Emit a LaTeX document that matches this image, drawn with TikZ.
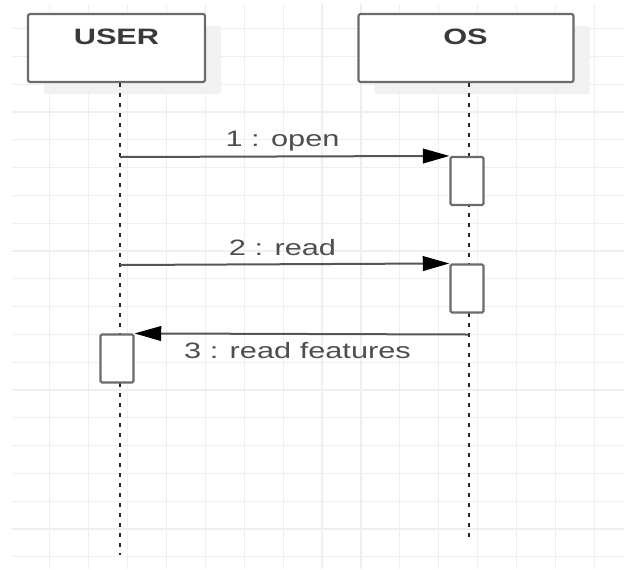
\documentclass[tikz,border=0pt]{standalone}
\usepackage{fontspec}
\setmainfont{Liberation Sans}
\newfontfamily\lblfont[FakeStretch=1.38]{Liberation Sans}
\usetikzlibrary{arrows.meta,shadows}
\definecolor{gridc}{HTML}{EFEFEF}
\definecolor{boxc}{HTML}{6B6B6B}
\definecolor{txtc}{HTML}{3A3A3A}
\definecolor{msgc}{HTML}{555555}
\definecolor{shadc}{HTML}{F1F1F1}
\tikzset{
  gridline/.style={draw=gridc, line width=0.9pt},
  objbox/.style={draw=boxc, line width=1.6pt, fill=white, rounded corners=1.5pt,
    minimum width=#1, minimum height=51pt, inner sep=0pt,
    general shadow={fill=shadc, shadow xshift=12pt, shadow yshift=-9pt}},
  actbox/.style={draw=boxc, line width=1.6pt, fill=white, rounded corners=1pt,
    minimum width=24.75pt, minimum height=36pt, inner sep=0pt},
  lifeline/.style={draw=black!85, line width=1.5pt, dash pattern=on 3pt off 4.5pt},
  msgline/.style={draw=msgc, line width=1.5pt, -{Triangle[length=20pt,width=11pt,fill=black,color=black]}},
  title/.style={font=\lblfont\bfseries\fontsize{16.7}{20}\selectfont, text=txtc, anchor=base, inner sep=0pt},
  msglabel/.style={font=\lblfont\fontsize{16.7}{20}\selectfont, text=txtc!90, anchor=base, inner sep=0pt}
}
\begin{document}
\begin{tikzpicture}[x=0.75pt,y=-0.75pt]
\useasboundingbox (0,0) rectangle (624,569);
\fill[white] (0,0) rectangle (624,569);
% grid
\foreach \k in {1,...,15} \draw[gridline] ({10.8+38.9*\k},4) -- ({10.8+38.9*\k},569);
\foreach \k in {1,...,20} \draw[gridline] (12,{0.8+27.8*\k}) -- (624,{0.8+27.8*\k});
% objects
\node[objbox=132.75pt] (user) at (116.5,48) {};
\node[objbox=161.25pt] (os) at (466,48) {};
\node[title] (usert) at (116.5,44.3) {USER};
\node[title] (ost) at (465.5,44.3) {OS};
% lifelines
\coordinate (userEnd) at (120,555);
\coordinate (osEnd) at (468.5,537);
\draw[lifeline] (userEnd |- user.south) -- (userEnd);
\draw[lifeline] (osEnd |- os.south) -- (osEnd);
% activations
\node[actbox] (act1) at (467,181) {};
\node[actbox] (act2) at (467,288.5) {};
\node[actbox] (act3) at (117,358.5) {};
% messages
\coordinate (m1s) at (120,157);
\coordinate (m2s) at (120,265);
\coordinate (m3s) at (468.5,334.5);
\draw[msgline] (m1s) -- (act1.north west);
\draw[msgline] (m2s) -- (act2.north west);
\draw[msgline] (m3s) -- (act3.north east);
\node[msglabel] (l1) at (282.5,146) {1 : open};
\node[msglabel] (l2) at (282.5,255) {2 : read};
\node[msglabel] (l3) at (297.5,358) {3 : read features};
\end{tikzpicture}
\end{document}
